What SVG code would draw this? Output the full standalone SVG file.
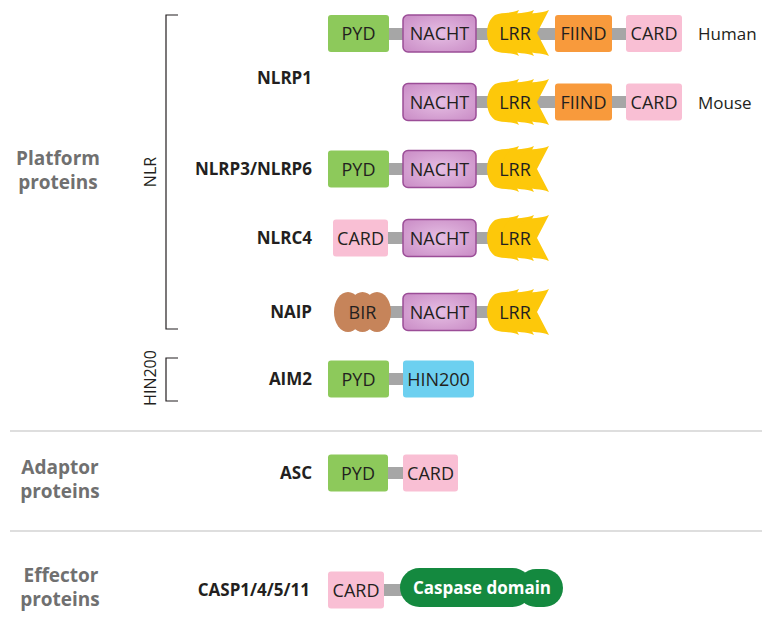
<svg xmlns="http://www.w3.org/2000/svg" width="770" height="617" viewBox="0 0 770 617">
<style>
.lbl{font-family:"Open Sans","Liberation Sans",sans-serif;font-weight:bold;font-size:17px;fill:#231f20;text-anchor:end}
.cat{font-family:"Open Sans","Liberation Sans",sans-serif;font-weight:bold;font-size:19px;fill:#707070;text-anchor:middle}
.dt{font-family:"Open Sans","Liberation Sans",sans-serif;font-size:18px;fill:#231f20;text-anchor:middle}
.sp{font-family:"Open Sans","Liberation Sans",sans-serif;font-size:17px;fill:#231f20}
.vt{font-family:"Open Sans","Liberation Sans",sans-serif;font-size:16px;fill:#231f20;text-anchor:middle}
.pyd{fill:#8dc95b}
.nacht{fill:url(#ng);stroke:#9b4d97;stroke-width:1.5}
.lrr{fill:#fdc80a}
.fiind{fill:#f89a3c}
.card{fill:#f9bfd4}
.bir{fill:#c6845a}
.hin{fill:#6dd0f0}
.casp{fill:#14893f}
.link{fill:#a6a6a6}
.sep{stroke:#bdbdbd;stroke-width:1.2}
.br{fill:none;stroke:#231f20;stroke-width:1.2}
</style>
<defs>
<radialGradient id="ng" cx="50%" cy="50%" r="70%">
<stop offset="0" stop-color="#e6bfe4"/>
<stop offset="1" stop-color="#c98bc5"/>
</radialGradient>
<path id="scale" d="M32,-23 L20,0 L32,23 C24,19 14,21 8,18 C2,14 0,6 0,0 C0,-6 2,-14 8,-18 C14,-21 24,-19 32,-23 Z"/>
<g id="lrrshape" class="lrr">
<use href="#scale" x="0"/>
<use href="#scale" x="15"/>
<use href="#scale" x="30"/>
</g>
</defs>

<g id="categories">
<text class="cat" x="58" y="165">Platform</text>
<text class="cat" x="58" y="189">proteins</text>
<text class="cat" x="60" y="474">Adaptor</text>
<text class="cat" x="60" y="498">proteins</text>
<text class="cat" x="61" y="582">Effector</text>
<text class="cat" x="60" y="606">proteins</text>
</g>

<g id="brackets">
<path class="br" d="M178,15 H166 V329 H178"/>
<path class="br" d="M178,358 H166 V401 H178"/>
<text class="vt" transform="translate(156,172) rotate(-90)">NLR</text>
<text class="vt" transform="translate(156,378) rotate(-90)">HIN200</text>
</g>

<g id="separators">
<line class="sep" x1="10" y1="431" x2="762" y2="431"/>
<line class="sep" x1="10" y1="531" x2="762" y2="531"/>
</g>

<g id="connectors">
<rect class="link" x="389" y="28" width="237" height="12"/>
<rect class="link" x="476" y="96" width="150" height="12"/>
<rect class="link" x="389" y="163" width="100" height="12"/>
<rect class="link" x="388" y="232" width="101" height="12"/>
<rect class="link" x="388" y="306" width="101" height="12"/>
<rect class="link" x="389" y="373" width="14" height="12"/>
<rect class="link" x="388" y="467" width="15" height="12"/>
<rect class="link" x="384" y="584" width="20" height="12"/>
</g>

<g id="nlrp1">
<text class="lbl" x="312" y="84">NLRP1</text>
<rect class="pyd" x="328" y="15" width="61" height="37" rx="3"/>
<text class="dt" x="358.5" y="40">PYD</text>
<rect class="nacht" x="403" y="15" width="73" height="37" rx="5"/>
<text class="dt" x="439.5" y="40">NACHT</text>
<use href="#lrrshape" transform="translate(487,33)"/>
<text class="dt" x="515" y="40">LRR</text>
<rect class="fiind" x="555" y="15" width="57" height="37" rx="3"/>
<text class="dt" x="583.5" y="40">FIIND</text>
<rect class="card" x="626" y="15" width="56" height="37" rx="3"/>
<text class="dt" x="654" y="40">CARD</text>
<text class="sp" x="698" y="40">Human</text>
<rect class="nacht" x="403" y="83.5" width="73" height="37" rx="5"/>
<text class="dt" x="439.5" y="108.5">NACHT</text>
<use href="#lrrshape" transform="translate(487,102)"/>
<text class="dt" x="515" y="108.5">LRR</text>
<rect class="fiind" x="555" y="83.5" width="57" height="37" rx="3"/>
<text class="dt" x="583.5" y="108.5">FIIND</text>
<rect class="card" x="626" y="83.5" width="56" height="37" rx="3"/>
<text class="dt" x="654" y="108.5">CARD</text>
<text class="sp" x="698" y="108.5">Mouse</text>
</g>

<g id="nlrp3">
<text class="lbl" x="312" y="175">NLRP3/NLRP6</text>
<rect class="pyd" x="328" y="150.5" width="61" height="37" rx="3"/>
<text class="dt" x="358.5" y="175.5">PYD</text>
<rect class="nacht" x="403" y="150.5" width="73" height="37" rx="5"/>
<text class="dt" x="439.5" y="175.5">NACHT</text>
<use href="#lrrshape" transform="translate(487,169)"/>
<text class="dt" x="515" y="175.5">LRR</text>
</g>

<g id="nlrc4">
<text class="lbl" x="312" y="244">NLRC4</text>
<rect class="card" x="333" y="219.5" width="55" height="37" rx="3"/>
<text class="dt" x="360.5" y="244.5">CARD</text>
<rect class="nacht" x="403" y="219.5" width="73" height="37" rx="5"/>
<text class="dt" x="439.5" y="244.5">NACHT</text>
<use href="#lrrshape" transform="translate(487,238)"/>
<text class="dt" x="515" y="244.5">LRR</text>
</g>

<g id="naip">
<text class="lbl" x="312" y="318">NAIP</text>
<g class="bir">
<ellipse cx="348" cy="312" rx="14" ry="20"/>
<ellipse cx="362.5" cy="312" rx="14" ry="20"/>
<ellipse cx="377" cy="312" rx="14" ry="20"/>
</g>
<text class="dt" x="362.5" y="318.5">BIR</text>
<rect class="nacht" x="403" y="293.5" width="73" height="37" rx="5"/>
<text class="dt" x="439.5" y="318.5">NACHT</text>
<use href="#lrrshape" transform="translate(487,312)"/>
<text class="dt" x="515" y="318.5">LRR</text>
</g>

<g id="aim2">
<text class="lbl" x="312" y="385">AIM2</text>
<rect class="pyd" x="328" y="360.5" width="61" height="37" rx="3"/>
<text class="dt" x="358.5" y="385.5">PYD</text>
<rect class="hin" x="403" y="360.5" width="71" height="37" rx="3"/>
<text class="dt" x="438.5" y="385.5">HIN200</text>
</g>

<g id="asc">
<text class="lbl" x="312" y="479">ASC</text>
<rect class="pyd" x="328" y="454.5" width="60" height="37" rx="3"/>
<text class="dt" x="358" y="479.5">PYD</text>
<rect class="card" x="403" y="454.5" width="55" height="37" rx="3"/>
<text class="dt" x="430.5" y="479.5">CARD</text>
</g>

<g id="casp">
<text class="lbl" x="310" y="596">CASP1/4/5/11</text>
<rect class="card" x="328" y="571.5" width="56" height="37" rx="3"/>
<text class="dt" x="356" y="596.5">CARD</text>
<g class="casp">
<rect x="400" y="568" width="132" height="39" rx="19.5"/>
<rect x="517" y="569" width="46" height="38" rx="19"/>
</g>
<text class="dt" x="482" y="594" style="fill:#fff;font-weight:bold;font-size:17px">Caspase domain</text>
</g>
</svg>
